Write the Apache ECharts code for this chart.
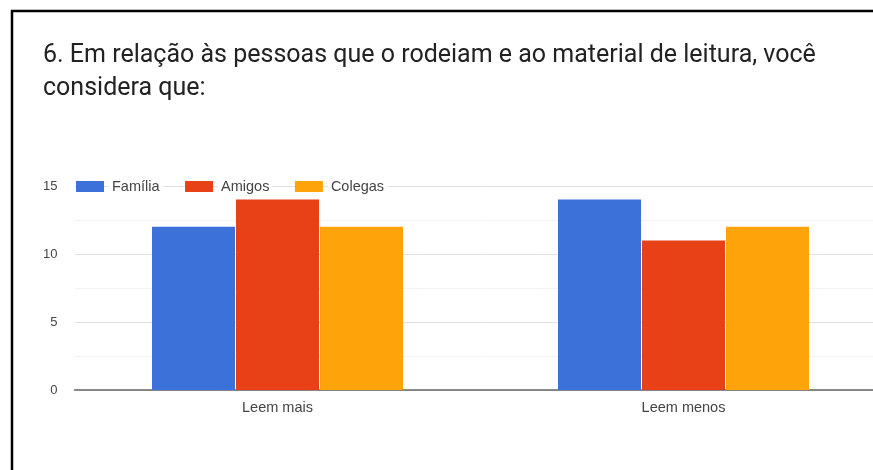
<!DOCTYPE html>
<html>
<head>
<meta charset="utf-8">
<script src="https://cdn.jsdelivr.net/npm/echarts@6/dist/echarts.min.js"></script>
<style>html,body{margin:0;padding:0;background:#fff;overflow:hidden}#c{width:887px;height:470px}</style>
</head>
<body>
<div id="c"></div>
<script>
const categories = ['Leem mais', 'Leem menos'];
const familia = [12, 14];
const amigos = [14, 11];
const colegas = [12, 12];
const seriesNames = ['Família', 'Amigos', 'Colegas'];
const yTicks = [0, 5, 10, 15];
const titleText = '6. Em relação às pessoas que o rodeiam e ao material de leitura, você\nconsidera que:';

const chart = echarts.init(document.getElementById('c'));
const colors = ['#3b71d9', '#e84118', '#ffa30a'];
const font = 'Arial, "Liberation Sans", sans-serif';
chart.setOption({
  animation: false,
  color: colors,
  title: {
    text: titleText,
    left: 43, top: 39, padding: 0,
    textStyle: { fontFamily: 'Roboto', fontSize: 25, fontWeight: 'normal', color: '#222', lineHeight: 33 }
  },
  graphic: [{
    type: 'rect', z: 100,
    shape: { x: 12, y: 11, width: 900, height: 500 },
    style: { fill: 'none', stroke: '#000', lineWidth: 2.5 }
  }],
  legend: {
    left: 76, top: 177, padding: 0,
    itemWidth: 28, itemHeight: 11, itemGap: 22.5,
    icon: 'rect',
    textStyle: { fontFamily: font, fontSize: 14.5, color: '#444', backgroundColor: '#fff', padding: [2, 3, 2, 3] },
    data: seriesNames
  },
  grid: { left: 74.5, right: 0.5, top: 186, bottom: 80, containLabel: false },
  xAxis: {
    type: 'category', data: categories,
    axisLine: { lineStyle: { color: '#666', width: 1.5 } },
    axisTick: { show: false },
    axisLabel: { fontFamily: font, fontSize: 14.5, color: '#444', margin: 10 }
  },
  yAxis: {
    type: 'value', min: yTicks[0], max: yTicks[yTicks.length - 1], interval: 5,
    axisLine: { show: false }, axisTick: { show: false },
    axisLabel: { fontFamily: font, fontSize: 13, color: '#444', margin: 17 },
    splitLine: { lineStyle: { color: '#e2e2e2', width: 1 } },
    minorTick: { show: false, splitNumber: 2 },
    minorSplitLine: { show: true, lineStyle: { color: '#f3f3f3', width: 1 } }
  },
  series: [
    { name: seriesNames[0], type: 'bar', data: familia, barWidth: 83, barGap: '1.2%' },
    { name: seriesNames[1], type: 'bar', data: amigos, barWidth: 83, barGap: '1.2%' },
    { name: seriesNames[2], type: 'bar', data: colegas, barWidth: 83, barGap: '1.2%' }
  ]
});
</script>
</body>
</html>
